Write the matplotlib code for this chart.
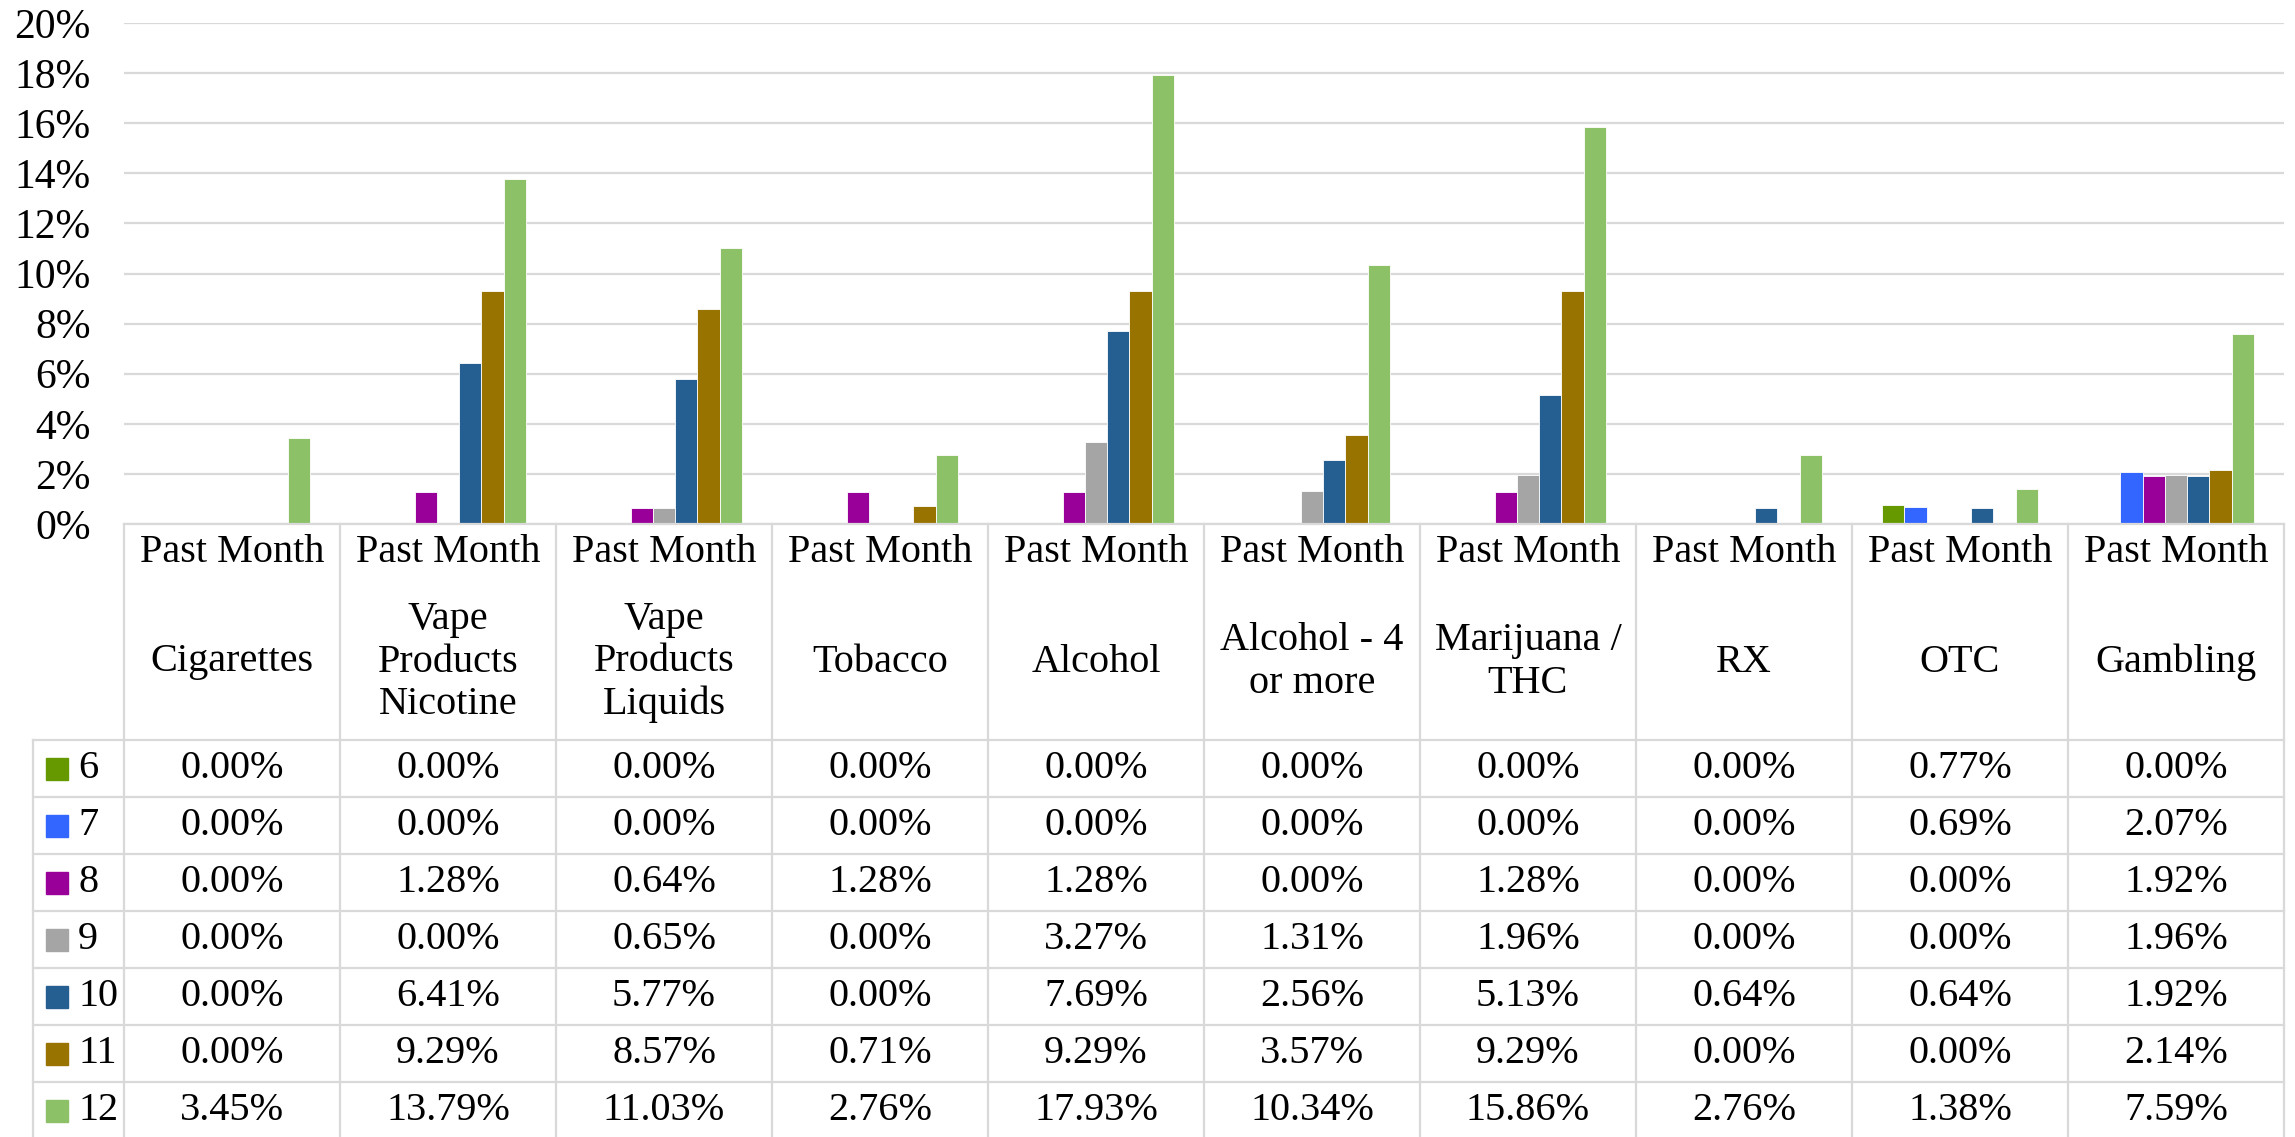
"""Past-month use by grade: grouped bars with data table underneath."""

import matplotlib

matplotlib.use("Agg")
import matplotlib.pyplot as plt
import matplotlib.transforms as mtransforms
import numpy as np

# ---- data -----------------------------------------------------------------
categories = [
    "Cigarettes",
    "Vape\nProducts\nNicotine",
    "Vape\nProducts\nLiquids",
    "Tobacco",
    "Alcohol",
    "Alcohol - 4\nor more",
    "Marijuana /\nTHC",
    "RX",
    "OTC",
    "Gambling",
]
period = "Past Month"
grades = ["6", "7", "8", "9", "10", "11", "12"]

grade6 = [0.00, 0.00, 0.00, 0.00, 0.00, 0.00, 0.00, 0.00, 0.77, 0.00]
grade7 = [0.00, 0.00, 0.00, 0.00, 0.00, 0.00, 0.00, 0.00, 0.69, 2.07]
grade8 = [0.00, 1.28, 0.64, 1.28, 1.28, 0.00, 1.28, 0.00, 0.00, 1.92]
grade9 = [0.00, 0.00, 0.65, 0.00, 3.27, 1.31, 1.96, 0.00, 0.00, 1.96]
grade10 = [0.00, 6.41, 5.77, 0.00, 7.69, 2.56, 5.13, 0.64, 0.64, 1.92]
grade11 = [0.00, 9.29, 8.57, 0.71, 9.29, 3.57, 9.29, 0.00, 0.00, 2.14]
grade12 = [3.45, 13.79, 11.03, 2.76, 17.93, 10.34, 15.86, 2.76, 1.38, 7.59]
series = [grade6, grade7, grade8, grade9, grade10, grade11, grade12]

colors = ["#669900", "#3366FF", "#990099", "#A5A5A5", "#255E91", "#997300", "#8CC168"]

# ---- figure ---------------------------------------------------------------
W, H = 2295, 1137
plt.rcParams["font.family"] = ["Liberation Serif", "DejaVu Serif"]
FS = 29
GRID = "#D9D9D9"

fig = plt.figure(figsize=(W / 100, H / 100), dpi=100)


def fy(px):
    """pixel row (from top) -> figure fraction"""
    return 1 - px / H


ax_left, ax_right, ax_top, ax_bottom = 124, 2284, 23, 524
ax = fig.add_axes([ax_left / W, fy(ax_bottom), (ax_right - ax_left) / W,
                   (ax_bottom - ax_top) / H])

n_cat = len(categories)
x = np.arange(n_cat)
bw = 0.103
for i, (vals, col) in enumerate(zip(series, colors)):
    ax.bar(x + (i - 3) * bw, vals, width=bw, color=col, edgecolor="white",
           linewidth=0.6, zorder=3)

ax.set_xlim(-0.5, n_cat - 0.5)
ax.set_ylim(0, 20)
ax.set_yticks(np.arange(0, 21, 2))
ax.set_yticklabels([f"{v}%" for v in range(0, 21, 2)], fontsize=FS + 1)
ax.tick_params(axis="y", length=0, pad=24)
ax.set_xticks([])
ax.grid(axis="y", color=GRID, linewidth=1.6, zorder=0)
for s in ax.spines.values():
    s.set_visible(False)

# ---- data table drawn below the axes ---------------------------------------
trans = mtransforms.blended_transform_factory(ax.transData, fig.transFigure)
row_h = 57
head_bot = 740
rows_top = [head_bot + k * row_h for k in range(len(grades))]
table_bot = head_bot + len(grades) * row_h
line_kw = dict(color=GRID, linewidth=1.6, clip_on=False)

# horizontal lines
fig.add_artist(plt.Line2D([ax_left / W, ax_right / W], [fy(ax_bottom)] * 2,
                          transform=fig.transFigure, **line_kw))
for k in range(len(grades) + 1):
    yy = fy(head_bot + k * row_h)
    fig.add_artist(plt.Line2D([33 / W, ax_right / W], [yy, yy],
                              transform=fig.transFigure, **line_kw))
# vertical lines
for b in np.arange(n_cat + 1) - 0.5:
    fig.add_artist(plt.Line2D([b, b], [fy(ax_bottom), fy(table_bot)],
                              transform=trans, **line_kw))
fig.add_artist(plt.Line2D([33 / W] * 2, [fy(head_bot), fy(table_bot)],
                          transform=fig.transFigure, **line_kw))

# header cells
for j, name in enumerate(categories):
    fig.text(j, fy(553), period, transform=trans, ha="center", va="center",
             fontsize=FS)
    fig.text(j, fy(662), name, transform=trans, ha="center", va="center",
             fontsize=FS, linespacing=1.2)

# value rows with legend keys
for r, (g, vals, col) in enumerate(zip(grades, series, colors)):
    yc = fy(rows_top[r] + row_h / 2)
    fig.patches.append(plt.Rectangle((46 / W, yc - 11 / H), 22 / W, 22 / H,
                                     transform=fig.transFigure, color=col))
    fig.text(78 / W, yc, g, ha="left", va="center", fontsize=FS)
    for j, v in enumerate(vals):
        fig.text(j, yc, f"{v:.2f}%", transform=trans, ha="center",
                 va="center", fontsize=FS)

fig.savefig("out.png", dpi=100)
plt.close(fig)
